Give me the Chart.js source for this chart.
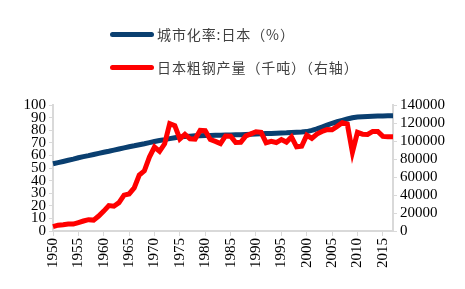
<!DOCTYPE html>
<html><head><meta charset="utf-8">
<script src="https://cdn.jsdelivr.net/npm/chart.js@4/dist/chart.umd.min.js"></script>
<style>
html,body{margin:0;padding:0;background:#fff;}
#wrap{position:relative;width:465px;height:289px;}
#legend{position:absolute;left:110px;top:24px;font-family:"Noto Sans CJK SC",sans-serif;font-size:14px;letter-spacing:0.9px;color:#404040;}
.item{display:flex;align-items:center;height:20px;margin-bottom:13px;white-space:nowrap;}
.sw{width:44px;height:5px;border-radius:3px;margin-right:3px;}
</style></head>
<body><div id="wrap"><canvas id="c" width="465" height="289"></canvas>
<div id="legend"></div></div>
<script>
const years = [];
for (let y = 1950; y <= 2017; y++) years.push(String(y));
const urbanLabel = "城市化率:日本（%）";
const steelLabel = "日本粗钢产量（千吨）（右轴）";
const urbanRate = [53.4,54.3,55.2,56.1,57.0,58.1,59.0,59.8,60.7,61.6,62.5,63.3,64.2,65.1,66.0,66.9,67.6,68.4,69.2,70.1,71.0,71.8,72.5,73.3,74.0,74.7,75.0,75.3,75.5,75.6,75.7,75.8,75.9,76.0,76.1,76.2,76.3,76.4,76.6,76.8,77.0,77.1,77.3,77.4,77.6,77.8,77.9,78.1,78.3,78.5,78.9,79.9,81.0,82.5,84.0,85.5,86.7,87.8,88.9,89.9,90.5,90.7,90.9,91.1,91.2,91.3,91.4,91.5];
const steelOutput = [4839,6502,6988,7662,7750,9408,11106,12570,12118,16629,22138,28268,27546,31501,39799,41161,47784,62154,66893,82166,93322,88557,96900,119322,117131,102313,107399,102405,102105,111748,111395,101676,99548,97179,105586,105279,98275,98513,105681,107908,110339,109649,98132,99632,98295,101640,98801,104545,93548,94192,106444,102866,107745,110511,112718,112471,116226,120203,118739,87534,109599,107601,107232,110595,110666,105134,104775,104661];
const leftTicks = [0,10,20,30,40,50,60,70,80,90,100];
const rightTicks = [0,20000,40000,60000,80000,100000,120000,140000];
const blue = "#0a3f70", red = "#ff0000";

document.getElementById('legend').innerHTML =
  `<div class="item"><div class="sw" style="background:${blue}"></div><span>${urbanLabel}</span></div>`+
  `<div class="item"><div class="sw" style="background:${red}"></div><span>${steelLabel}</span></div>`;

const tickFont = {family:"'Liberation Serif', serif", size:15};
const axisGray = "#d9d9d9";
new Chart(document.getElementById('c'), {
  type:'line',
  data:{labels:years, datasets:[
    {label:urbanLabel, data:urbanRate, borderColor:blue, backgroundColor:blue, borderWidth:5, pointRadius:0, yAxisID:'y', tension:0, order:2},
    {label:steelLabel, data:steelOutput, borderColor:red, backgroundColor:red, borderWidth:5, pointRadius:0, yAxisID:'y1', tension:0, order:1}
  ]},
  options:{
    responsive:false, animation:false,
    layout:{padding:{top:105,left:0,right:0,bottom:0}},
    plugins:{legend:{display:false}, tooltip:{enabled:false}},
    scales:{
      x:{
        grid:{drawOnChartArea:false, drawTicks:true, tickLength:5,
          color:(ctx)=> (ctx.index!==undefined && (1950+ctx.index)%5===0) ? axisGray : 'rgba(0,0,0,0)'},
        border:{color:axisGray, width:2},
        ticks:{autoSkip:false, minRotation:90, maxRotation:90, color:'#000', font:tickFont, padding:2,
          callback:function(v,i){ const yr=Number(this.getLabelForValue(v)); return yr%5===0 ? String(yr) : ''; }},
        afterFit:(s)=>{ s.height = 58; }
      },
      y:{
        position:'left', min:leftTicks[0], max:leftTicks[leftTicks.length-1],
        grid:{drawOnChartArea:false, tickLength:4, color:axisGray},
        border:{color:axisGray, width:2},
        ticks:{stepSize:leftTicks[1]-leftTicks[0], autoSkip:false, color:'#000', font:tickFont, padding:3, callback:(v)=>String(v)},
        afterFit:(s)=>{ s.width = 53; }
      },
      y1:{
        position:'right', min:rightTicks[0], max:rightTicks[rightTicks.length-1],
        grid:{drawOnChartArea:false, tickLength:4, color:axisGray},
        border:{color:axisGray, width:2},
        ticks:{stepSize:rightTicks[1]-rightTicks[0], autoSkip:false, color:'#000', font:tickFont, padding:3, callback:(v)=>String(v)},
        afterFit:(s)=>{ s.width = 72; }
      }
    }
  }
});
</script></body></html>
